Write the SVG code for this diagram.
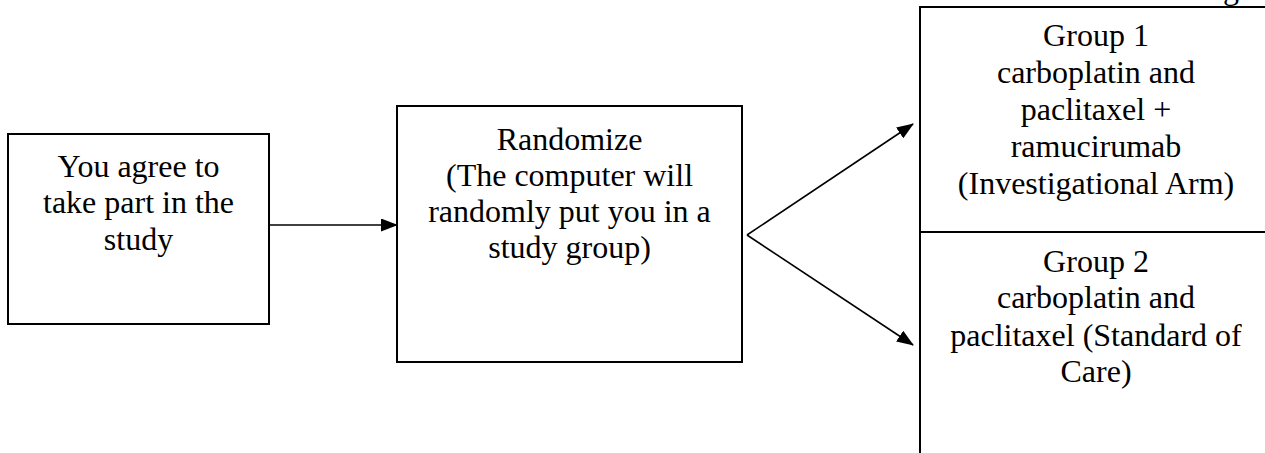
<svg xmlns="http://www.w3.org/2000/svg" width="1265" height="453" viewBox="0 0 1265 453">
<style>
.box{fill:#fff;stroke:#000;stroke-width:2}
.t{font-family:"Liberation Serif","Times New Roman",serif;font-size:32px;fill:#000;text-anchor:middle}
.c{fill:none;stroke:#000;stroke-width:1.6}
</style>
<defs>
<marker id="ah" markerWidth="17" markerHeight="13" refX="16" refY="6.5" orient="auto" markerUnits="userSpaceOnUse">
<path d="M0,0 L17,6.5 L0,13 Z" fill="#000"/>
</marker>
</defs>
<rect width="1265" height="453" fill="#fff"/>
<text class="t" x="1231" y="-1">g</text>
<g id="node-agree">
<rect class="box" x="8" y="134" width="261" height="190"/>
<text class="t" x="138.5" y="177">You agree to</text>
<text class="t" x="138.5" y="213">take part in the</text>
<text class="t" x="138.5" y="250">study</text>
</g>
<g id="node-randomize">
<rect class="box" x="397" y="106" width="345" height="256"/>
<text class="t" x="569.5" y="150">Randomize</text>
<text class="t" x="569.5" y="186">(The computer will</text>
<text class="t" x="569.5" y="222">randomly put you in a</text>
<text class="t" x="569.5" y="258">study group)</text>
</g>
<g id="node-group1">
<path class="box" d="M1266,7 L920,7 L920,232 L1266,232"/>
<text class="t" x="1096" y="46">Group 1</text>
<text class="t" x="1096" y="83">carboplatin and</text>
<text class="t" x="1096" y="120">paclitaxel +</text>
<text class="t" x="1096" y="157">ramucirumab</text>
<text class="t" x="1096" y="194">(Investigational Arm)</text>
</g>
<g id="node-group2">
<path class="box" d="M1266,232 L920,232 L920,454"/>
<text class="t" x="1096" y="272">Group 2</text>
<text class="t" x="1096" y="308">carboplatin and</text>
<text class="t" x="1096" y="346">paclitaxel (Standard of</text>
<text class="t" x="1096" y="382">Care)</text>
</g>
<g id="connectors">
<line class="c" x1="269" y1="225" x2="397" y2="225" marker-end="url(#ah)"/>
<line class="c" x1="747" y1="235" x2="913" y2="124" marker-end="url(#ah)"/>
<line class="c" x1="747" y1="235" x2="913" y2="345" marker-end="url(#ah)"/>
</g>
</svg>
